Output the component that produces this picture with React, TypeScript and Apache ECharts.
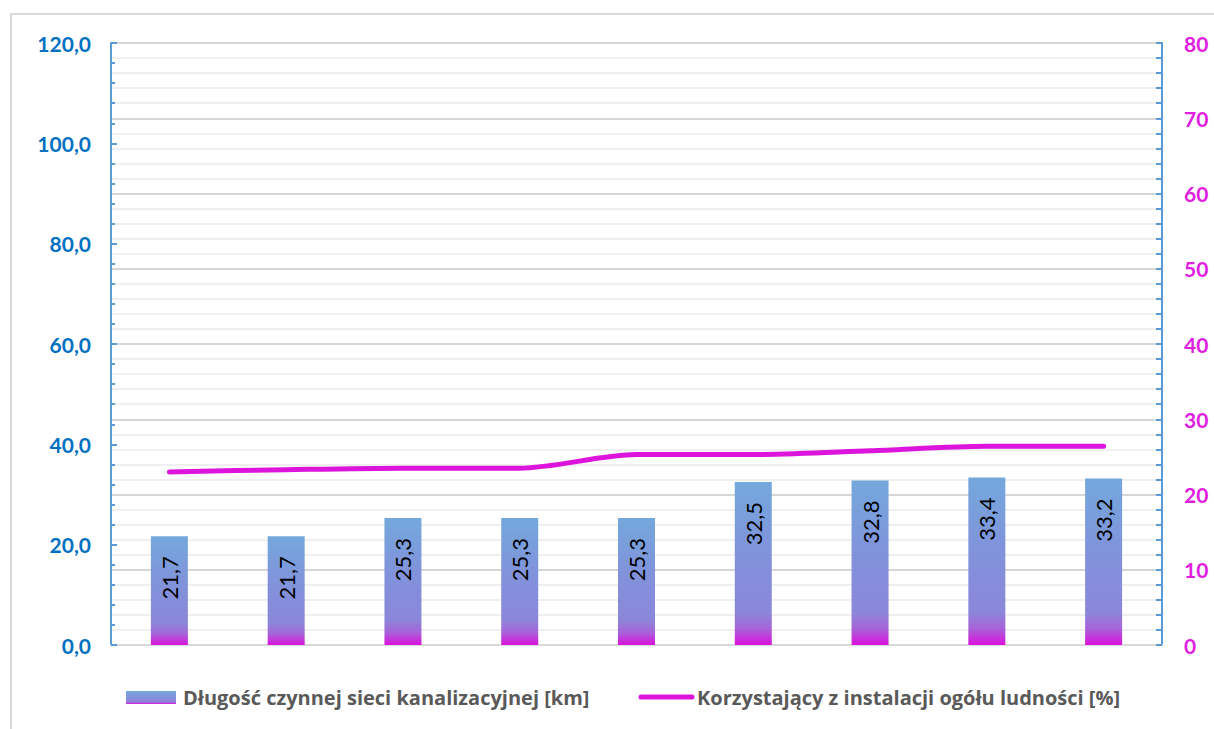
import React, { useEffect, useRef } from "react";
import * as echarts from "echarts";

const categories = ["1", "2", "3", "4", "5", "6", "7", "8", "9"];
const networkLengthKm = [21.7, 21.7, 25.3, 25.3, 25.3, 32.5, 32.8, 33.4, 33.2];
const usersPercent = [23.0, 23.3, 23.5, 23.5, 25.3, 25.3, 25.8, 26.4, 26.4];
const barSeriesName = "Długość czynnej sieci kanalizacyjnej [km]";
const lineSeriesName = "Korzystający z instalacji ogółu ludności [%]";

const FONT = "Lato, 'Open Sans', sans-serif";
const LEGEND_FONT = "'Open Sans', sans-serif";
const barGradientStops = [
  { offset: 0, color: "#74a8dc" },
  { offset: 0.45, color: "#8192db" },
  { offset: 0.8, color: "#8b87d9" },
  { offset: 0.9, color: "#a764d9" },
  { offset: 1, color: "#dc10dc" },
];

export default function App() {
  const ref = useRef<HTMLDivElement>(null);
  useEffect(() => {
    if (!ref.current) return;
    const chart = echarts.init(ref.current, null, { renderer: "svg" });
    const fmt1 = (v: number) => v.toFixed(1).replace(".", ",");
    chart.setOption({
      animation: false,
      backgroundColor: "#ffffff",
      grid: { left: 111, right: 52, top: 43, bottom: 84, containLabel: false },
      xAxis: {
        type: "category",
        data: categories,
        axisLine: { show: true, lineStyle: { color: "#d9d9d9", width: 2 } },
        axisTick: { show: false },
        axisLabel: { show: false },
      },
      yAxis: [
        {
          type: "value",
          min: 0,
          max: 120,
          interval: 20,
          position: "left",
          axisLine: { show: true, lineStyle: { color: "#5b9bd5", width: 2 } },
          axisTick: { show: true, inside: true, length: 6, lineStyle: { color: "#5b9bd5", width: 2 } },
          minorTick: { show: true, splitNumber: 5, length: 4, lineStyle: { color: "#5b9bd5", width: 2 } },
          splitLine: { show: false },
          axisLabel: {
            formatter: fmt1,
            color: "#0070c0",
            fontWeight: "bold",
            fontSize: 21,
            fontFamily: FONT,
            margin: 20,
          },
        },
        {
          type: "value",
          min: 0,
          max: 80,
          interval: 10,
          position: "right",
          axisLine: { show: true, lineStyle: { color: "#5b9bd5", width: 2 } },
          axisTick: { show: true, inside: true, length: 6, lineStyle: { color: "#5b9bd5", width: 2 } },
          minorTick: { show: true, splitNumber: 5, length: 6, lineStyle: { color: "#5b9bd5", width: 2 } },
          splitLine: { show: true, lineStyle: { color: "#d6d6d6", width: 2 } },
          minorSplitLine: { show: true, lineStyle: { color: "#efefef", width: 2 } },
          axisLabel: {
            color: "#e020e0",
            fontWeight: "bold",
            fontSize: 21,
            fontFamily: FONT,
            margin: 22,
          },
        },
      ],
      series: [
        {
          name: barSeriesName,
          type: "bar",
          yAxisIndex: 0,
          data: networkLengthKm,
          barWidth: 37,
          itemStyle: {
            color: new echarts.graphic.LinearGradient(0, 0, 0, 1, barGradientStops),
          },
          label: {
            show: true,
            position: "insideTop",
            rotate: 90,
            align: "right",
            verticalAlign: "middle",
            distance: 20,
            formatter: (p: any) => fmt1(p.value),
            color: "#000000",
            fontSize: 22,
            fontFamily: FONT,
          },
          z: 2,
        },
        {
          name: lineSeriesName,
          type: "line",
          yAxisIndex: 1,
          data: usersPercent,
          smooth: 0.3,
          showSymbol: false,
          symbol: "none",
          lineStyle: { color: "#dc14dc", width: 5, cap: "round" },
          itemStyle: { color: "#dc14dc" },
          z: 3,
        },
      ],
      graphic: [
        {
          type: "rect",
          shape: { x: 11, y: 14, width: 1300, height: 800 },
          style: { fill: "none", stroke: "#d9d9d9", lineWidth: 2 },
          silent: true,
          z: -10,
        },
        {
          type: "rect",
          shape: { x: 126, y: 691, width: 50, height: 13 },
          style: {
            fill: new echarts.graphic.LinearGradient(0, 0, 0, 1, barGradientStops),
          },
        },
        {
          type: "text",
          x: 183,
          y: 697,
          style: {
            text: barSeriesName,
            fill: "#595959",
            font: "bold 20px " + LEGEND_FONT,
            textVerticalAlign: "middle",
          },
        },
        {
          type: "line",
          shape: { x1: 641, y1: 697, x2: 692, y2: 697 },
          style: { stroke: "#dc14dc", lineWidth: 5, lineCap: "round" },
        },
        {
          type: "text",
          x: 697,
          y: 697,
          style: {
            text: lineSeriesName,
            fill: "#595959",
            font: "bold 20px " + LEGEND_FONT,
            textVerticalAlign: "middle",
          },
        },
      ],
    });
    return () => chart.dispose();
  }, []);
  return (
    <div
      ref={ref}
      style={{ position: "absolute", left: 0, top: 0, width: 1214, height: 729 }}
    />
  );
}
